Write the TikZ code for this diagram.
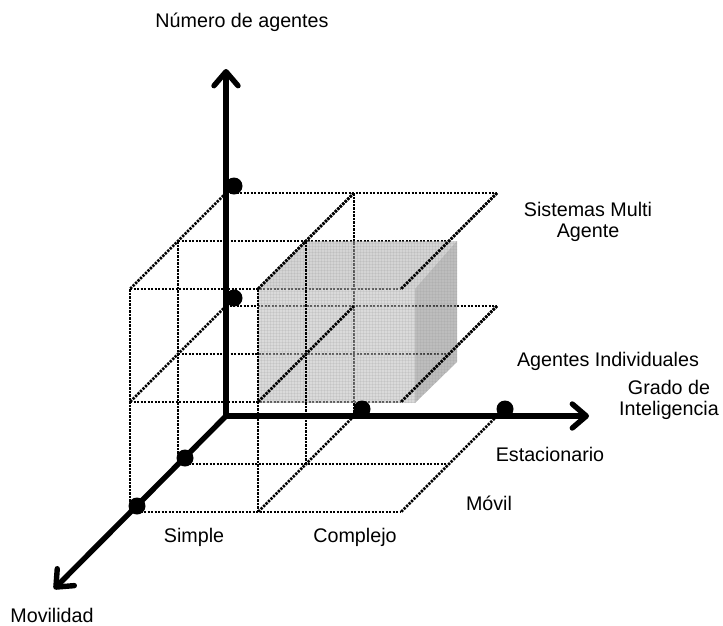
\documentclass[tikz,border=0pt]{standalone}
\usepackage{fontspec}
\setmainfont{Liberation Sans}
\usetikzlibrary{arrows.meta}
\begin{document}
\begin{tikzpicture}[x=1pt,y=-1pt,
  barb/.tip={Straight Barb[length=14pt,width=24pt,round]},
  axis/.style={line width=5.4pt},
  gridline/.style={line width=2.6pt, dash pattern=on 2.3pt off 1.2pt},
  pointdot/.style={circle, fill=black, inner sep=0pt, minimum size=17pt},
  lbl/.style={font=\fontsize{19.7}{21}\selectfont, anchor=base, inner sep=0pt, align=center},
  cubeface/.style={draw=none, fill opacity=0.5},
  texture/.style={draw={rgb,255:red,150;green,150;blue,150}, line width=0.5pt, draw opacity=0.18}
]
\useasboundingbox (0,0) rectangle (723,625);

% ---- dotted lattice (origin of the axes, x to the right, y up, z towards the viewer)
\begin{scope}[shift={(226,416)}, x={(1pt,0pt)}, y={(0pt,1pt)}, z={(-48pt,-48pt)}]
  % lines along the intelligence direction
  \foreach \yy/\zz in {110/0, 223/0, 0/1, 110/1, 223/1, 0/2, 110/2, 223/2}
    \draw[gridline] (0,\yy,\zz) -- (271,\yy,\zz);
  % lines along the mobility direction
  \foreach \xx/\yy in {128/0, 271/0, 0/110, 128/110, 271/110, 0/223, 128/223, 271/223}
    \draw[gridline] (\xx,\yy,0) -- (\xx,\yy,2);
  % vertical lines
  \foreach \xx/\zz in {128/0, 0/1, 128/1, 0/2, 128/2}
    \draw[gridline] (\xx,0,\zz) -- (\xx,223,\zz);
\end{scope}

% ---- shaded block
\fill[cubeface, fill={rgb,255:red,182;green,182;blue,182}]
  (258,289) -- (415,289) -- (415,403) -- (258,403) -- cycle;
\fill[cubeface, fill={rgb,255:red,170;green,170;blue,170}]
  (258,289) -- (306,241) -- (457,241) -- (415,289) -- cycle;
\fill[cubeface, fill={rgb,255:red,124;green,124;blue,124}]
  (415,289) -- (457,241) -- (457,362) -- (415,403) -- cycle;
% fine screen texture on the block
\begin{scope}
  \clip (258,289) -- (306,241) -- (457,241) -- (457,362) -- (415,403) -- (258,403) -- cycle;
  \foreach \k in {0,...,66}
    \draw[texture] (258+3*\k,240) -- (258+3*\k,404);
  \foreach \k in {0,...,55}
    \draw[texture] (257,240+3*\k) -- (458,240+3*\k);
\end{scope}

% ---- lattice lines that stay dark across the block
\begin{scope}[shift={(226,416)}, x={(1pt,0pt)}, y={(0pt,1pt)}, z={(-48pt,-48pt)}]
  \foreach \xx/\yy in {128/110, 271/110, 128/223, 271/223}
    \draw[gridline] (\xx,\yy,0) -- (\xx,\yy,2);
  \foreach \xx/\zz in {128/1, 128/2}
    \draw[gridline] (\xx,0,\zz) -- (\xx,223,\zz);
\end{scope}

% ---- axes
\coordinate (O) at (226,416);
\coordinate (ytip) at (226,69);
\coordinate (xtip) at (589,416);
\coordinate (ztip) at (54,589);
\draw[axis, line join=miter, barb-barb] (ytip) -- (O) -- (xtip);
\draw[axis, line cap=round, -barb] (O) -- (ztip);

% ---- marks on the axes
\node[pointdot] (dy1) at (234,298) {};
\node[pointdot] (dy2) at (234,186) {};
\node[pointdot] (dx1) at (362,409) {};
\node[pointdot] (dx2) at (505,409) {};
\node[pointdot] (dz1) at (185,458) {};
\node[pointdot] (dz2) at (137,506) {};

% ---- labels
\node[lbl] (tagents) at (242,27) {Número de agentes};
\node[lbl] (tmulti) at (588,237) {Sistemas Multi\\Agente};
\node[lbl] (tindiv) at (608,366) {Agentes Individuales};
\node[lbl] (tgrado) at (669,415) {Grado de\\Inteligencia};
\node[lbl] (testac) at (550,461) {Estacionario};
\node[lbl] (tmovil) at (489,510) {Móvil};
\node[lbl] (tsimple) at (194,542) {Simple};
\node[lbl] (tcompl) at (355,542) {Complejo};
\node[lbl] (tmovilidad) at (52,622) {Movilidad};
\end{tikzpicture}
\end{document}
